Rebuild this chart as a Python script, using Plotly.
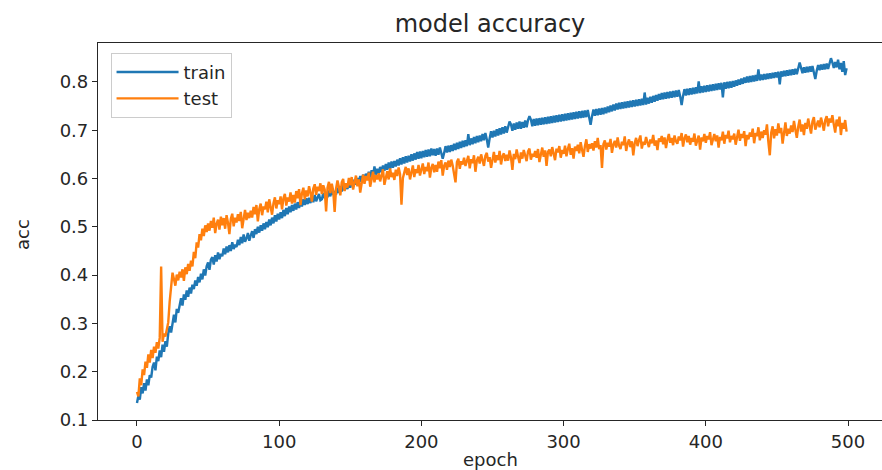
import plotly.graph_objects as go

epochs = list(range(500))

train_acc = [
    0.135, 0.150, 0.142, 0.168, 0.155, 0.176, 0.161, 0.184, 0.172, 0.193,
    0.188, 0.210, 0.219, 0.203, 0.231, 0.222, 0.244, 0.230, 0.256, 0.241,
    0.263, 0.252, 0.279, 0.294, 0.281, 0.305, 0.318, 0.302, 0.330, 0.322,
    0.341, 0.352, 0.337, 0.360, 0.349, 0.368, 0.355, 0.374, 0.362, 0.380,
    0.371, 0.389, 0.378, 0.396, 0.385, 0.403, 0.391, 0.412, 0.399, 0.418,
    0.426, 0.411, 0.432, 0.437, 0.422, 0.441, 0.428, 0.447, 0.433, 0.444,
    0.439, 0.455, 0.443, 0.459, 0.447, 0.462, 0.450, 0.468, 0.454, 0.463,
    0.458, 0.473, 0.462, 0.479, 0.466, 0.484, 0.469, 0.476, 0.487, 0.471,
    0.482, 0.491, 0.477, 0.495, 0.485, 0.500, 0.488, 0.503, 0.492, 0.507,
    0.495, 0.510, 0.499, 0.515, 0.503, 0.519, 0.507, 0.524, 0.511, 0.527,
    0.515, 0.530, 0.518, 0.535, 0.522, 0.539, 0.526, 0.542, 0.530, 0.545,
    0.533, 0.548, 0.536, 0.551, 0.539, 0.554, 0.542, 0.557, 0.545, 0.559,
    0.547, 0.560, 0.549, 0.563, 0.551, 0.566, 0.553, 0.561, 0.568, 0.555,
    0.557, 0.570, 0.559, 0.572, 0.561, 0.575, 0.563, 0.578, 0.566, 0.574,
    0.567, 0.581, 0.570, 0.584, 0.573, 0.587, 0.576, 0.590, 0.578, 0.593,
    0.581, 0.595, 0.584, 0.598, 0.587, 0.601, 0.590, 0.605, 0.593, 0.608,
    0.596, 0.610, 0.599, 0.614, 0.602, 0.617, 0.605, 0.625, 0.608, 0.620,
    0.610, 0.624, 0.613, 0.627, 0.616, 0.630, 0.618, 0.633, 0.620, 0.635,
    0.622, 0.636, 0.625, 0.639, 0.627, 0.642, 0.629, 0.644, 0.631, 0.646,
    0.633, 0.647, 0.635, 0.650, 0.637, 0.652, 0.639, 0.655, 0.641, 0.656,
    0.642, 0.657, 0.644, 0.659, 0.645, 0.660, 0.646, 0.662, 0.648, 0.661,
    0.647, 0.662, 0.649, 0.664, 0.650, 0.641, 0.653, 0.667, 0.654, 0.668,
    0.655, 0.669, 0.657, 0.672, 0.659, 0.674, 0.661, 0.676, 0.663, 0.678,
    0.665, 0.679, 0.667, 0.692, 0.669, 0.683, 0.671, 0.686, 0.673, 0.688,
    0.675, 0.689, 0.677, 0.692, 0.679, 0.694, 0.681, 0.664, 0.683, 0.698,
    0.685, 0.699, 0.687, 0.702, 0.689, 0.704, 0.691, 0.706, 0.693, 0.708,
    0.695, 0.709, 0.718, 0.712, 0.699, 0.714, 0.701, 0.716, 0.703, 0.718,
    0.703, 0.717, 0.705, 0.720, 0.706, 0.721, 0.729, 0.722, 0.708, 0.723,
    0.709, 0.724, 0.710, 0.725, 0.711, 0.726, 0.712, 0.727, 0.713, 0.728,
    0.714, 0.729, 0.715, 0.730, 0.716, 0.731, 0.717, 0.732, 0.718, 0.733,
    0.719, 0.734, 0.720, 0.735, 0.721, 0.736, 0.722, 0.737, 0.723, 0.738,
    0.724, 0.739, 0.725, 0.740, 0.726, 0.741, 0.727, 0.742, 0.728, 0.711,
    0.729, 0.743, 0.730, 0.744, 0.731, 0.745, 0.732, 0.746, 0.733, 0.747,
    0.735, 0.749, 0.737, 0.751, 0.739, 0.753, 0.741, 0.755, 0.743, 0.757,
    0.744, 0.758, 0.745, 0.759, 0.746, 0.760, 0.747, 0.761, 0.748, 0.762,
    0.749, 0.763, 0.750, 0.764, 0.751, 0.765, 0.752, 0.778, 0.753, 0.767,
    0.755, 0.769, 0.757, 0.771, 0.759, 0.773, 0.761, 0.775, 0.763, 0.777,
    0.764, 0.778, 0.765, 0.779, 0.766, 0.780, 0.767, 0.781, 0.768, 0.782,
    0.769, 0.783, 0.770, 0.752, 0.771, 0.785, 0.772, 0.786, 0.773, 0.787,
    0.774, 0.788, 0.775, 0.789, 0.776, 0.801, 0.777, 0.791, 0.778, 0.792,
    0.779, 0.793, 0.780, 0.794, 0.781, 0.795, 0.782, 0.796, 0.783, 0.797,
    0.784, 0.798, 0.768, 0.799, 0.786, 0.800, 0.787, 0.801, 0.788, 0.802,
    0.790, 0.803, 0.792, 0.805, 0.794, 0.807, 0.796, 0.809, 0.798, 0.811,
    0.799, 0.812, 0.800, 0.813, 0.801, 0.814, 0.802, 0.826, 0.803, 0.815,
    0.804, 0.816, 0.805, 0.817, 0.806, 0.818, 0.807, 0.819, 0.808, 0.820,
    0.809, 0.821, 0.795, 0.822, 0.811, 0.823, 0.812, 0.824, 0.813, 0.825,
    0.814, 0.826, 0.815, 0.827, 0.816, 0.828, 0.840, 0.829, 0.818, 0.830,
    0.819, 0.831, 0.820, 0.832, 0.821, 0.833, 0.822, 0.806, 0.823, 0.835,
    0.824, 0.836, 0.825, 0.837, 0.826, 0.838, 0.827, 0.839, 0.849, 0.840,
    0.829, 0.841, 0.830, 0.846, 0.826, 0.839, 0.821, 0.843, 0.814, 0.828,
]

test_acc = [
    0.158, 0.149, 0.186, 0.172, 0.205, 0.193, 0.221, 0.208, 0.236, 0.219,
    0.245, 0.228, 0.252, 0.239, 0.261, 0.248, 0.270, 0.418, 0.262, 0.279,
    0.273, 0.288, 0.302, 0.345, 0.381, 0.405, 0.392, 0.378, 0.401, 0.389,
    0.407, 0.395, 0.412, 0.388, 0.416, 0.402, 0.423, 0.409, 0.430, 0.418,
    0.448, 0.435, 0.468, 0.457, 0.485, 0.472, 0.496, 0.481, 0.503, 0.489,
    0.507, 0.492, 0.512, 0.498, 0.519, 0.487, 0.506, 0.515, 0.494, 0.521,
    0.503, 0.518, 0.496, 0.524, 0.508, 0.485, 0.516, 0.527, 0.501, 0.519,
    0.509, 0.526, 0.512, 0.531, 0.497, 0.522, 0.535, 0.514, 0.529, 0.518,
    0.533, 0.519, 0.541, 0.526, 0.545, 0.511, 0.537, 0.548, 0.524, 0.542,
    0.536, 0.552, 0.530, 0.557, 0.541, 0.525, 0.549, 0.561, 0.538, 0.555,
    0.547, 0.563, 0.536, 0.559, 0.568, 0.544, 0.561, 0.552, 0.571, 0.548,
    0.566, 0.550, 0.574, 0.559, 0.578, 0.545, 0.569, 0.581, 0.557, 0.575,
    0.563, 0.584, 0.571, 0.552, 0.579, 0.588, 0.566, 0.583, 0.574, 0.590,
    0.568, 0.586, 0.577, 0.532, 0.581, 0.593, 0.570, 0.589, 0.575, 0.531,
    0.579, 0.596, 0.583, 0.565, 0.592, 0.599, 0.574, 0.590, 0.581, 0.601,
    0.586, 0.603, 0.577, 0.595, 0.606, 0.584, 0.598, 0.571, 0.593, 0.608,
    0.589, 0.605, 0.596, 0.612, 0.583, 0.603, 0.614, 0.592, 0.607, 0.598,
    0.611, 0.594, 0.608, 0.619, 0.587, 0.606, 0.615, 0.598, 0.621, 0.603,
    0.612, 0.597, 0.618, 0.605, 0.623, 0.609, 0.546, 0.601, 0.616, 0.624,
    0.607, 0.621, 0.598, 0.614, 0.627, 0.603, 0.619, 0.611, 0.628, 0.606,
    0.617, 0.631, 0.609, 0.624, 0.615, 0.633, 0.602, 0.622, 0.630, 0.613,
    0.628, 0.614, 0.635, 0.621, 0.638, 0.606, 0.626, 0.633, 0.618, 0.637,
    0.624, 0.639, 0.627, 0.612, 0.592, 0.634, 0.641, 0.620, 0.636, 0.629,
    0.643, 0.626, 0.638, 0.647, 0.621, 0.640, 0.632, 0.648, 0.614, 0.637,
    0.645, 0.631, 0.650, 0.638, 0.626, 0.647, 0.653, 0.635, 0.644, 0.622,
    0.641, 0.655, 0.633, 0.648, 0.638, 0.657, 0.629, 0.646, 0.652, 0.636,
    0.649, 0.637, 0.658, 0.643, 0.618, 0.651, 0.640, 0.660, 0.645, 0.632,
    0.654, 0.641, 0.659, 0.647, 0.636, 0.656, 0.662, 0.639, 0.651, 0.645,
    0.657, 0.643, 0.661, 0.634, 0.652, 0.664, 0.645, 0.658, 0.626, 0.655,
    0.660, 0.646, 0.665, 0.649, 0.638, 0.662, 0.654, 0.667, 0.643, 0.659,
    0.651, 0.668, 0.646, 0.661, 0.672, 0.649, 0.663, 0.641, 0.666, 0.657,
    0.670, 0.652, 0.675, 0.659, 0.645, 0.667, 0.681, 0.655, 0.671, 0.662,
    0.673, 0.658, 0.677, 0.664, 0.684, 0.661, 0.669, 0.622, 0.671, 0.679,
    0.660, 0.674, 0.666, 0.682, 0.653, 0.670, 0.678, 0.664, 0.685, 0.668,
    0.661, 0.676, 0.669, 0.687, 0.657, 0.672, 0.681, 0.665, 0.677, 0.648,
    0.673, 0.684, 0.667, 0.679, 0.689, 0.662, 0.676, 0.670, 0.686, 0.674,
    0.665, 0.681, 0.673, 0.690, 0.668, 0.679, 0.659, 0.683, 0.676, 0.688,
    0.671, 0.685, 0.663, 0.680, 0.692, 0.674, 0.684, 0.669, 0.689, 0.677,
    0.672, 0.687, 0.679, 0.694, 0.666, 0.683, 0.691, 0.675, 0.688, 0.670,
    0.684, 0.676, 0.693, 0.668, 0.681, 0.689, 0.660, 0.685, 0.677, 0.692,
    0.674, 0.688, 0.681, 0.696, 0.669, 0.684, 0.692, 0.677, 0.689, 0.664,
    0.686, 0.679, 0.697, 0.672, 0.690, 0.683, 0.699, 0.675, 0.688, 0.681,
    0.693, 0.670, 0.689, 0.701, 0.678, 0.692, 0.684, 0.698, 0.667, 0.690,
    0.681, 0.695, 0.687, 0.703, 0.673, 0.694, 0.688, 0.706, 0.679, 0.697,
    0.684, 0.700, 0.691, 0.712, 0.676, 0.648, 0.695, 0.708, 0.683, 0.702,
    0.689, 0.714, 0.694, 0.705, 0.672, 0.699, 0.716, 0.688, 0.703, 0.693,
    0.710, 0.696, 0.719, 0.701, 0.684, 0.707, 0.722, 0.697, 0.712, 0.690,
    0.715, 0.703, 0.724, 0.708, 0.693, 0.718, 0.727, 0.701, 0.713, 0.720,
    0.706, 0.726, 0.714, 0.699, 0.721, 0.729, 0.708, 0.724, 0.716, 0.731,
    0.712, 0.695, 0.722, 0.708, 0.728, 0.690, 0.715, 0.703, 0.721, 0.697,
]

x_ticks = [0, 100, 200, 300, 400, 500]
y_ticks = [0.1, 0.2, 0.3, 0.4, 0.5, 0.6, 0.7, 0.8]

FONT = "DejaVu Sans"
TXT = "#262626"

fig = go.Figure()
fig.add_trace(go.Scatter(x=epochs, y=train_acc, mode="lines", name="train",
                         line=dict(color="#1f77b4", width=2.4)))
fig.add_trace(go.Scatter(x=epochs, y=test_acc, mode="lines", name="test",
                         line=dict(color="#ff7f0e", width=2.4)))

fig.update_layout(
    width=882, height=470,
    margin=dict(l=98, r=0, t=43, b=50),
    paper_bgcolor="white", plot_bgcolor="white",
    font=dict(family=FONT, size=18, color=TXT),
    title=dict(text="model accuracy", x=0.5, xref="paper", xanchor="center",
               y=1 - 24 / 470, yanchor="middle", font=dict(size=24, color=TXT)),
    showlegend=True,
    legend=dict(x=0.016, y=0.974, xanchor="left", yanchor="top",
                bgcolor="rgba(255,255,255,0.8)", bordercolor="#cccccc", borderwidth=1,
                font=dict(size=18, color=TXT), tracegroupgap=0, itemwidth=62),
    annotations=[
        dict(text="epoch", xref="paper", yref="paper", x=0.5, y=(420 - 459) / 377,
             xanchor="center", yanchor="middle", showarrow=False,
             font=dict(size=18, color=TXT)),
        dict(text="acc", xref="paper", yref="paper", x=(22 - 98) / 784, y=(420 - 235) / 377,
             xanchor="center", yanchor="middle", showarrow=False, textangle=-90,
             font=dict(size=18, color=TXT)),
    ],
)
fig.update_xaxes(range=[-27.4, 523.9], tickvals=x_ticks, ticks="outside", ticklen=5,
                 tickcolor=TXT, showline=True, linecolor=TXT, linewidth=1.2, mirror=True,
                 showgrid=False, zeroline=False)
fig.update_yaxes(range=[0.1, 0.8805], tickvals=y_ticks, ticktext=[str(v) for v in y_ticks],
                 ticks="outside", ticklen=5,
                 tickcolor=TXT, showline=True, linecolor=TXT, linewidth=1.2, mirror=False,
                 showgrid=False, zeroline=False)

fig.write_html("out.html", config={"displayModeBar": False},
               post_script="document.body.style.margin='0';")
